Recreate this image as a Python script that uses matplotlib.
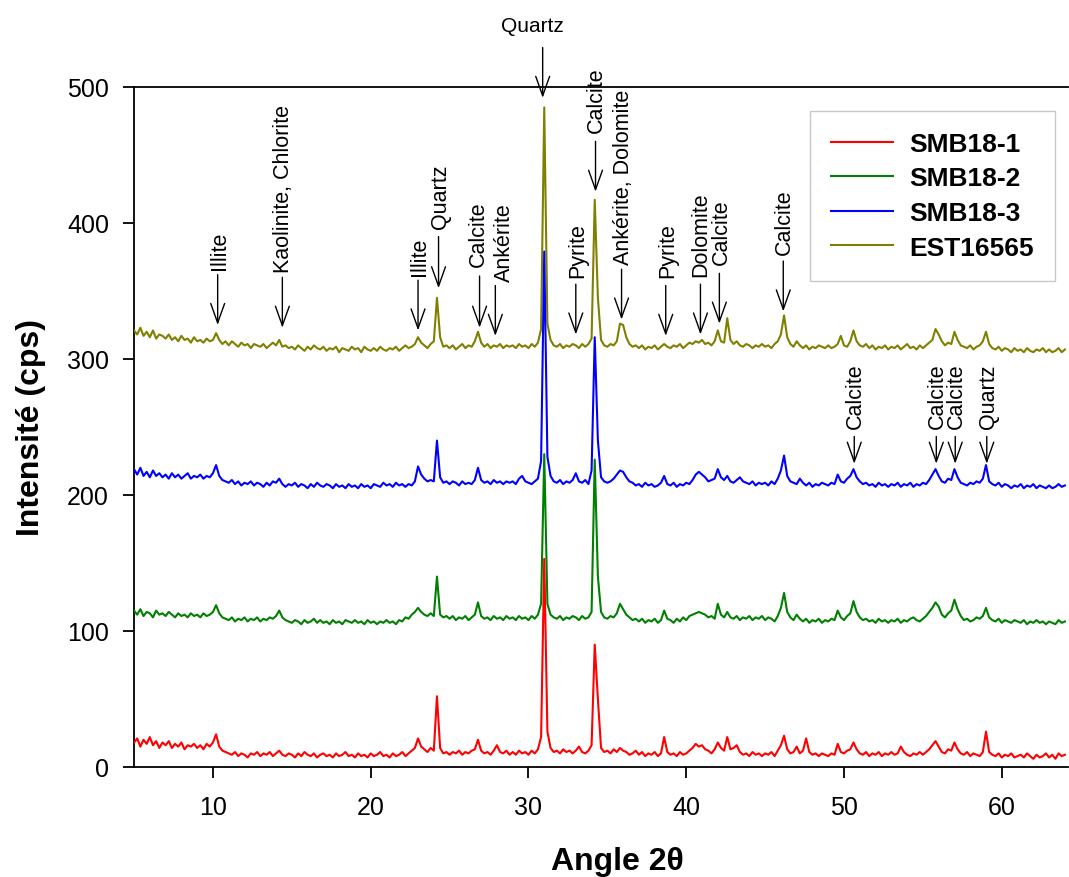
import numpy as np
import matplotlib.pyplot as plt

plt.rcParams['font.family'] = ['Liberation Sans', 'DejaVu Sans']

# 2theta scan, 0.2 deg step from 5.0 to 64.0
angle = np.round(5.0 + 0.2 * np.arange(296), 1)

# intensities (cps), one row = 2 degrees
smb18_1 = [
    18, 21, 15, 20, 17, 22, 16, 19, 14, 18,
    16, 19, 14, 17, 15, 18, 13, 16, 15, 17,
    14, 16, 13, 17, 15, 18, 24, 15, 12, 11,
    10, 9, 11, 8, 10, 9, 7, 10, 9, 11,
    8, 10, 9, 11, 8, 10, 12, 9, 8, 10,
    9, 7, 10, 8, 11, 9, 8, 10, 7, 9,
    10, 8, 9, 7, 10, 8, 9, 11, 8, 9,
    7, 10, 8, 9, 7, 10, 8, 9, 11, 8,
    9, 7, 10, 8, 9, 11, 8, 10, 12, 14,
    21, 15, 13, 11, 14, 12, 52, 14, 10, 11,
    9, 11, 10, 12, 9, 11, 10, 12, 13, 20,
    12, 10, 11, 9, 12, 16, 11, 10, 12, 9,
    11, 9, 12, 10, 11, 9, 12, 10, 13, 22,
    153, 26, 14, 11, 12, 10, 13, 11, 12, 10,
    12, 15, 11, 10, 12, 16, 90, 50, 14, 11,
    12, 10, 13, 11, 14, 12, 11, 9, 10, 12,
    9, 11, 8, 10, 9, 11, 8, 10, 22, 11,
    9, 10, 8, 11, 9, 10, 12, 14, 17, 15,
    16, 13, 12, 10, 13, 18, 14, 12, 22, 13,
    14, 16, 11, 9, 10, 8, 11, 9, 10, 8,
    10, 9, 11, 8, 12, 16, 23, 13, 10, 11,
    15, 10, 12, 21, 11, 9, 10, 8, 10, 9,
    8, 10, 9, 17, 11, 10, 12, 13, 18, 13,
    10, 9, 11, 8, 10, 9, 11, 8, 10, 9,
    11, 9, 10, 15, 11, 9, 8, 10, 9, 11,
    9, 11, 13, 16, 19, 15, 11, 10, 13, 12,
    18, 13, 10, 9, 11, 8, 10, 9, 8, 11,
    26, 11, 9, 8, 10, 7, 9, 8, 10, 7,
    8, 9, 7, 10, 8, 6, 9, 7, 8, 10,
    7, 9, 6, 10, 8, 9,
]
smb18_2 = [
    115, 112, 116, 111, 114, 113, 110, 115, 112, 113,
    111, 114, 112, 110, 113, 111, 112, 110, 113, 111,
    112, 110, 113, 111, 112, 114, 119, 113, 110, 109,
    108, 110, 107, 109, 108, 110, 107, 109, 108, 110,
    107, 109, 108, 110, 109, 111, 115, 110, 108, 107,
    106, 108, 107, 105, 108, 106, 107, 109, 106, 108,
    106, 107, 105, 108, 106, 107, 105, 108, 107, 106,
    108, 106, 107, 105, 108, 106, 107, 105, 107, 106,
    108, 106, 107, 105, 108, 107, 110, 109, 112, 114,
    117, 114, 112, 111, 113, 111, 140, 112, 110, 111,
    109, 111, 108, 110, 109, 111, 108, 110, 112, 121,
    111, 109, 110, 108, 111, 109, 110, 108, 111, 109,
    110, 108, 111, 109, 110, 108, 111, 109, 112, 120,
    230, 120, 112, 110, 109, 111, 108, 110, 109, 111,
    110, 108, 111, 109, 110, 114, 226, 140, 114, 110,
    109, 111, 110, 113, 120, 116, 112, 110, 108, 109,
    107, 109, 106, 108, 107, 109, 106, 108, 115, 109,
    108, 106, 109, 107, 110, 108, 111, 112, 113, 114,
    113, 112, 110, 111, 109, 120, 112, 110, 114, 110,
    109, 111, 108, 110, 109, 111, 108, 110, 109, 111,
    108, 110, 109, 107, 111, 117, 128, 114, 110, 108,
    112, 109, 107, 109, 106, 108, 107, 109, 106, 108,
    107, 109, 108, 115, 110, 108, 111, 113, 122, 114,
    110, 108, 109, 107, 108, 106, 109, 107, 108, 106,
    108, 107, 109, 106, 108, 107, 109, 110, 108, 107,
    109, 111, 114, 117, 121, 118, 112, 110, 113, 115,
    123, 116, 111, 108, 109, 107, 108, 110, 109, 111,
    117, 110, 108, 107, 109, 106, 108, 107, 106, 108,
    107, 106, 108, 105, 107, 106, 108, 106, 107, 105,
    107, 106, 105, 108, 106, 107,
]
smb18_3 = [
    219, 215, 220, 214, 217, 213, 218, 214, 216, 213,
    215, 212, 216, 213, 215, 212, 214, 216, 212, 214,
    213, 215, 212, 214, 213, 216, 222, 214, 211, 210,
    209, 211, 208, 210, 207, 209, 208, 210, 207, 209,
    208, 206, 209, 207, 210, 209, 212, 208, 206, 208,
    207, 209, 206, 208, 207, 205, 208, 206, 209, 207,
    206, 208, 207, 205, 208, 206, 207, 205, 208, 206,
    207, 205, 208, 206, 207, 205, 208, 207, 206, 209,
    207, 208, 206, 209, 207, 208, 206, 208, 207, 210,
    221, 215, 212, 210, 211, 210, 240, 213, 209, 210,
    208, 210, 209, 207, 210, 208, 209, 208, 211, 220,
    211, 209, 210, 208, 211, 209, 210, 208, 210, 209,
    210, 208, 212, 214, 210, 209, 208, 210, 212, 225,
    379, 228, 214, 210, 209, 211, 208, 210, 209, 211,
    216, 210, 209, 211, 208, 218, 316, 240, 213, 210,
    209, 210, 212, 215, 218, 217, 213, 210, 209, 207,
    208, 206, 209, 207, 208, 206, 207, 209, 214, 208,
    207, 209, 206, 208, 207, 209, 208, 211, 215, 217,
    215, 213, 210, 211, 212, 219, 213, 211, 214, 210,
    209, 211, 213, 210, 209, 208, 210, 207, 209, 208,
    209, 207, 210, 208, 212, 218, 229, 214, 210, 209,
    208, 212, 209, 207, 209, 206, 208, 207, 209, 208,
    207, 209, 208, 215, 210, 209, 212, 214, 219, 213,
    210, 208, 209, 207, 208, 206, 209, 207, 208, 206,
    208, 207, 209, 206, 208, 207, 209, 206, 208, 207,
    209, 208, 211, 215, 219, 214, 210, 209, 212, 211,
    219, 213, 209, 208, 207, 209, 208, 210, 209, 212,
    222, 210, 208, 207, 209, 206, 208, 207, 205, 207,
    206, 208, 205, 207, 206, 208, 205, 207, 206, 205,
    207, 205, 206, 208, 206, 207,
]
est16565 = [
    321, 318, 323, 317, 320, 316, 321, 315, 318, 317,
    315, 318, 314, 316, 313, 317, 314, 315, 312, 316,
    313, 314, 312, 315, 313, 314, 319, 314, 311, 313,
    310, 313, 311, 309, 312, 310, 311, 308, 311, 310,
    309, 311, 308, 310, 312, 310, 314, 309, 310, 308,
    309, 307, 310, 308, 306, 309, 307, 310, 308, 307,
    309, 306, 308, 307, 309, 305, 308, 307, 306, 309,
    307, 308, 305, 309, 307, 306, 308, 306, 309, 307,
    306, 308, 307, 309, 306, 308, 310, 308, 309, 311,
    316, 312, 310, 308, 311, 313, 345, 316, 309, 310,
    308, 310, 307, 309, 311, 308, 310, 309, 313, 320,
    312, 309, 311, 308, 310, 309, 311, 308, 310, 309,
    310, 308, 311, 309, 310, 308, 311, 309, 312, 322,
    485, 326, 314, 310, 309, 311, 308, 310, 309, 311,
    310, 308, 311, 309, 311, 315, 417, 345, 314, 310,
    309, 311, 310, 313, 326, 325, 316, 311, 309, 310,
    308, 310, 307, 309, 308, 310, 307, 309, 311, 309,
    308, 310, 309, 311, 308, 310, 312, 311, 313, 312,
    314, 311, 312, 310, 313, 321, 313, 312, 330, 314,
    311, 313, 310, 309, 311, 310, 308, 310, 309, 311,
    309, 310, 308, 311, 313, 318, 332, 316, 311, 309,
    313, 310, 308, 310, 307, 309, 308, 310, 309, 308,
    310, 308, 309, 311, 317, 310, 309, 313, 321, 313,
    310, 309, 311, 308, 310, 307, 309, 308, 310, 307,
    309, 308, 310, 307, 309, 311, 308, 309, 307, 310,
    308, 310, 312, 314, 322, 318, 313, 310, 312, 311,
    320, 314, 310, 309, 308, 310, 307, 309, 310, 313,
    320, 311, 308, 307, 309, 306, 308, 307, 305, 308,
    306, 307, 305, 308, 306, 305, 307, 306, 308, 305,
    307, 305, 306, 308, 305, 307,
]

names = ['SMB18-1', 'SMB18-2', 'SMB18-3', 'EST16565']
colors = ['#ff0000', '#008000', '#0000ff', '#808000']

# mineral labels: (text, arrow 2theta, arrow tip, arrow tail, text 2theta, text bottom)
minerals = [
    ('Illite', 10.3, 325, 362, 10.4, 366),
    ('Kaolinite, Chlorite', 14.4, 323, 360, 14.5, 364),
    ('Illite', 23.0, 321, 358, 23.1, 362),
    ('Quartz', 24.3, 352, 390, 24.4, 396),
    ('Calcite', 26.9, 323, 361, 26.85, 368),
    ('Ankérite', 27.9, 317, 354, 28.45, 357),
    ('Pyrite', 33.0, 318, 355, 33.1, 360),
    ('Calcite', 34.25, 423, 460, 34.3, 467),
    ('Ankérite, Dolomite', 35.9, 329, 366, 36.0, 370),
    ('Pyrite', 38.7, 317, 354, 38.8, 360),
    ('Dolomite', 40.9, 318, 355, 40.9, 361),
    ('Calcite', 42.1, 326, 363, 42.25, 370),
    ('Calcite', 46.15, 335, 372, 46.25, 377),
    ('Calcite', 50.65, 223, 243, 50.75, 249),
    ('Calcite', 55.85, 223, 243, 55.9, 249),
    ('Calcite', 57.05, 223, 243, 57.15, 249),
    ('Quartz', 59.05, 223, 243, 59.15, 249),
]

fig = plt.figure(figsize=(10.69, 8.78), dpi=100)
ax = fig.add_axes([0.1254, 0.1253, 0.8737, 0.7745])

series = [smb18_1, smb18_2, smb18_3, est16565]
lines = []
for i in range(len(series)):
    ln, = ax.plot(angle, series[i], color=colors[i], lw=1.5, label=names[i], zorder=10 - i)
    lines.append(ln)

arrow_style = '->,head_length=1.4,head_width=0.5'
for txt, x, tip, tail, tx, ty in minerals:
    ax.annotate('', xy=(x, tip), xytext=(x, tail),
                arrowprops=dict(arrowstyle=arrow_style, color='black', lw=1.0,
                                shrinkA=0, shrinkB=0, mutation_scale=10),
                annotation_clip=False, zorder=20)
    ax.text(tx, ty, txt, rotation=90, ha='center', va='bottom', fontsize=15.5, zorder=20)

# main quartz peak, label above the frame
ax.annotate('', xy=(30.9, 492), xytext=(30.9, 529),
            arrowprops=dict(arrowstyle=arrow_style, color='black', lw=1.0,
                            shrinkA=0, shrinkB=0, mutation_scale=10),
            annotation_clip=False, zorder=20)
ax.text(30.25, 545.5, 'Quartz', ha='center', va='center', fontsize=15, clip_on=False)

ax.set_xlim(5, 64.2)
ax.set_ylim(0, 500)
ax.set_xticks([10, 20, 30, 40, 50, 60])
ax.set_yticks([0, 100, 200, 300, 400, 500])
ax.tick_params(axis='x', direction='out', length=8, width=1.3, labelsize=18, pad=12, top=False)
ax.tick_params(axis='y', direction='out', length=8, width=1.3, labelsize=18, pad=10, right=False)
ax.spines['right'].set_visible(False)
for s in ['left', 'bottom', 'top']:
    ax.spines[s].set_linewidth(1.3)

ax.set_xlabel('Angle 2θ', fontsize=23, fontweight='bold', va='center')
ax.xaxis.set_label_coords(0.518, -0.138)
ax.set_ylabel('Intensité (cps)', fontsize=23, fontweight='bold', va='center')
ax.yaxis.set_label_coords(-0.11, 0.5)

leg = ax.legend(handles=lines, loc='upper right', bbox_to_anchor=(0.986, 0.965),
                prop={'weight': 'bold', 'size': 19}, handlelength=2.35,
                handletextpad=0.6, labelspacing=0.4, borderpad=0.8, borderaxespad=0,
                fancybox=False, framealpha=1, edgecolor='#c8c8c8')
leg.get_frame().set_linewidth(1.0)

fig.savefig('out.png', dpi=100)
